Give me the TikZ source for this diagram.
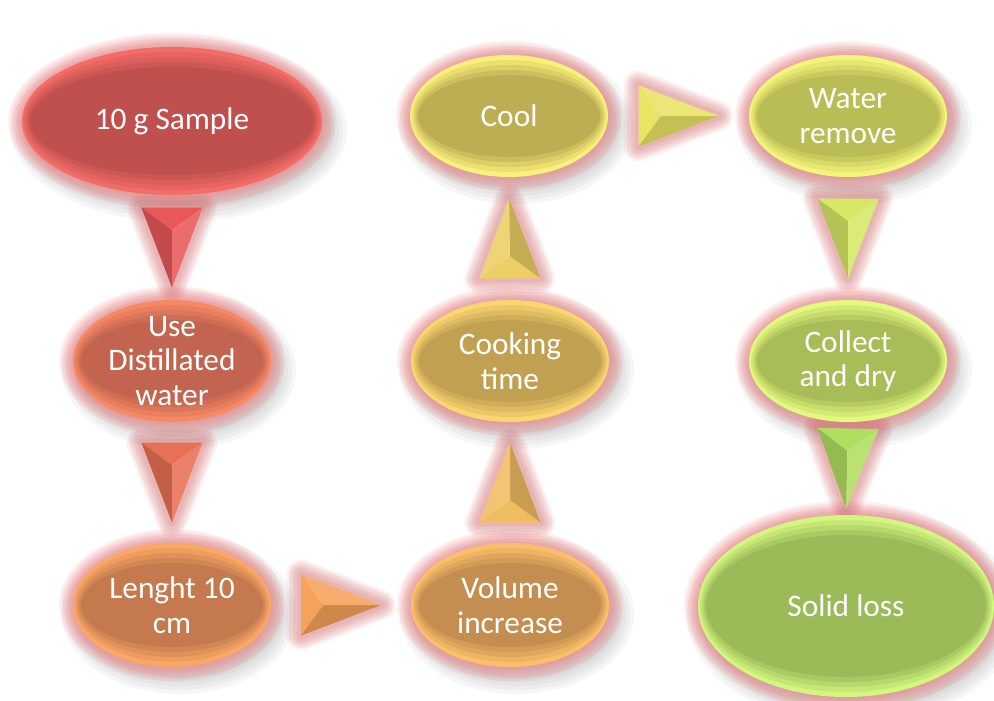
\documentclass[tikz,border=0pt]{standalone}
\usepackage{fontspec}
\setmainfont{Carlito}
\usetikzlibrary{shapes.geometric,calc}

% step colours, red to green
\definecolor{clr0}{RGB}{192,80,77}
\definecolor{clr1}{RGB}{194,100,79}
\definecolor{clr2}{RGB}{196,122,78}
\definecolor{clr3}{RGB}{196,142,80}
\definecolor{clr4}{RGB}{194,160,82}
\definecolor{clr5}{RGB}{190,174,83}
\definecolor{clr6}{RGB}{186,188,85}
\definecolor{clr7}{RGB}{168,188,87}
\definecolor{clr8}{RGB}{155,187,89}
% light rims
\definecolor{rim0}{RGB}{244,108,102}
\definecolor{rim1}{RGB}{246,136,100}
\definecolor{rim2}{RGB}{250,168,100}
\definecolor{rim3}{RGB}{250,192,105}
\definecolor{rim4}{RGB}{250,214,110}
\definecolor{rim5}{RGB}{250,240,122}
\definecolor{rim6}{RGB}{244,246,122}
\definecolor{rim7}{RGB}{226,250,126}
\definecolor{rim8}{RGB}{210,246,126}
% arrows
\definecolor{arw1}{RGB}{232,88,88}
\definecolor{arw2}{RGB}{232,112,84}
\definecolor{arw3}{RGB}{245,162,90}
\definecolor{arw4}{RGB}{240,188,96}
\definecolor{arw5}{RGB}{236,206,100}
\definecolor{arw6}{RGB}{232,228,100}
\definecolor{arw7}{RGB}{214,232,100}
\definecolor{arw8}{RGB}{176,222,95}
\definecolor{glowpink}{RGB}{236,112,116}

\pgfdeclarelayer{halo}
\pgfsetlayers{halo,main}

\tikzset{every picture/.style={line width=0.75pt}}
\tikzset{
  bubble/.style={ellipse, inner xsep=0pt, inner ysep=-9pt, align=center, text=white,
    font=\fontsize{23.5}{26}\selectfont},
  glow/.style={glowpink, opacity=0.1},
  shadow/.style={black, opacity=0.035}
}

% pyramid arrow between two anchors
\newcommand{\flowarrow}[3]{%
  \coordinate (m) at ($(#1)!0.5!(#2)$);
  \coordinate (tip) at ($(m)!30pt!(#2)$);
  \coordinate (bm) at ($(m)!-30pt!(#2)$);
  \coordinate (c1) at ($(bm)!23pt!90:(tip)$);
  \coordinate (c2) at ($(bm)!23pt!-90:(tip)$);
  \coordinate (in) at ($(bm)!0.28!(tip)$);
  \begin{pgfonlayer}{halo}
    \foreach \s in {6,12,18}
      \draw[shadow, line width=\s pt, line join=round, shift={(5,7)}] (c1) -- (tip) -- (c2) -- cycle;
    \foreach \g in {22,18,14,10,6}
      \draw[glow, line width=\g pt, line join=round] (c1) -- (tip) -- (c2) -- cycle;
  \end{pgfonlayer}
  \fill[#3] (c1) -- (c2) -- (in) -- cycle;
  \fill[#3!84!black] (c1) -- (tip) -- (in) -- cycle;
  \fill[#3!88!white] (c2) -- (tip) -- (in) -- cycle;
}

\begin{document}
\begin{tikzpicture}[x=0.75pt,y=0.75pt,yscale=-1,xscale=1]
	\useasboundingbox (0,0) rectangle (994,700);

	%Shape: Ellipses with glow
	\foreach \nm/\x/\y/\rx/\ry/\k/\txt in {
		sample/172/121/150/74/0/{10 g Sample},
		dist/172/361/99/61/1/{Use\\Distillated\\water},
		len/172/605/99/62/2/{Lenght 10\\cm},
		vol/510/605/99/62/3/{Volume\\increase},
		cook/510/361/99/61/4/{Cooking\\time},
		cool/509/116/99/61/5/{Cool},
		water/848/116/99/61/6/{Water\\remove},
		collect/848/361/99/61/7/{Collect\\and dry},
		loss/846/606/148/91/8/{Solid loss}}{
		\begin{pgfonlayer}{halo}
			\foreach \s in {2,6,10,14,18}
				\fill[shadow] (\x+7,\y+9) ellipse [x radius=\rx+\s, y radius=\ry+\s];
			\foreach \g in {14,12,10,8,6,4,2}
				\fill[glow] (\x,\y) ellipse [x radius=\rx+\g, y radius=\ry+\g];
		\end{pgfonlayer}
		\fill[rim\k] (\x,\y) ellipse [x radius=\rx, y radius=\ry];
		\fill[rim\k!75!clr\k] (\x,\y) ellipse [x radius=\rx-2, y radius=\ry-5];
		\fill[rim\k!50!clr\k] (\x,\y) ellipse [x radius=\rx-4, y radius=\ry-10];
		\fill[rim\k!25!clr\k] (\x,\y) ellipse [x radius=\rx-6, y radius=\ry-15];
		\fill[clr\k] (\x,\y) ellipse [x radius=\rx-8, y radius=\ry-20];
		% Text Node
		\node[bubble, minimum width=1.5*\rx, minimum height=1.5*\ry] (\nm) at (\x,\y) {\txt};
	}

	%Shape: Arrows
	\flowarrow{sample.south}{dist.north}{arw1}
	\flowarrow{dist.south}{len.north}{arw2}
	\flowarrow{len.east}{vol.west}{arw3}
	\flowarrow{vol.north}{cook.south}{arw4}
	\flowarrow{cook.north}{cool.south}{arw5}
	\flowarrow{cool.east}{water.west}{arw6}
	\flowarrow{water.south}{collect.north}{arw7}
	\flowarrow{collect.south}{loss.north}{arw8}

\end{tikzpicture}
\end{document}
